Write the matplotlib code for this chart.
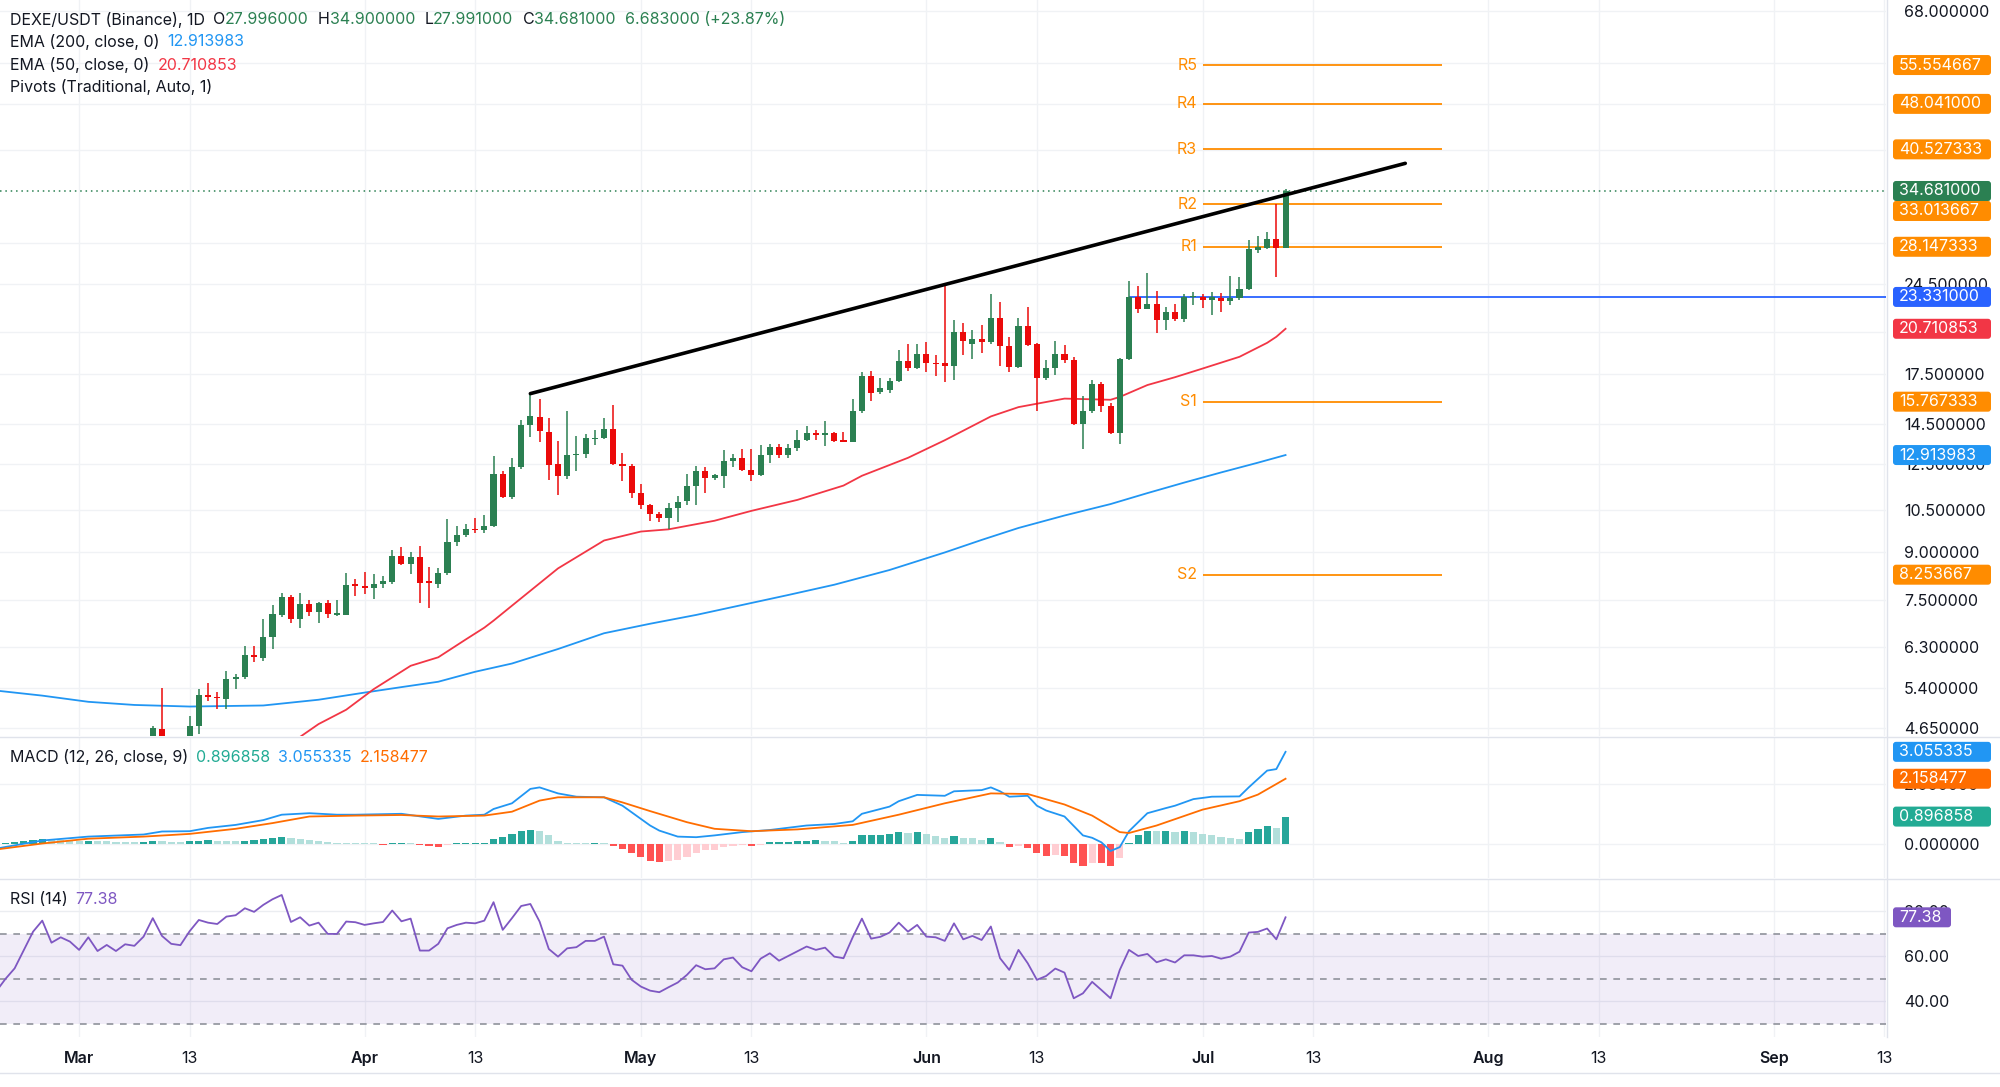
import numpy as np
import pandas as pd
import matplotlib
matplotlib.use("Agg")
import matplotlib.pyplot as plt
import matplotlib.dates as mdates
from matplotlib.patches import FancyBboxPatch
from matplotlib.lines import Line2D
from matplotlib.transforms import IdentityTransform
from matplotlib.ticker import NullLocator, FixedLocator

plt.rcParams['font.family'] = ['Inter', 'DejaVu Sans']

# ---------------- data ----------------
candle_start, candle_end = "2024-03-09", "2024-07-10"
opens = [4.50, 4.63, 4.40, 4.35, 4.45, 4.69, 5.27, 5.23, 5.19, 5.58, 5.63, 6.11, 6.04, 6.54, 7.11, 7.59,
         7.00, 7.40, 7.17, 7.42, 7.11, 7.11, 7.96, 7.92, 7.84, 7.96, 8.03, 8.86, 8.59, 8.83, 8.05, 7.98,
         8.30, 9.33, 9.57, 9.80, 9.76, 9.90, 12.05, 11.05, 12.36, 14.45, 14.90, 14.10, 12.50, 11.95, 12.90,
         12.97, 13.70, 13.75, 14.25, 12.50, 12.40, 11.20, 10.72, 10.35, 10.20, 10.60, 10.88, 11.50, 12.15,
         11.85, 11.95, 12.65, 12.75, 12.22, 12.00, 12.90, 13.30, 12.90, 13.25, 13.65, 14.05, 13.90, 14.05,
         13.65, 13.58, 15.20, 17.35, 16.35, 16.50, 17.05, 18.38, 17.90, 18.85, 18.25, 18.20, 18.00, 20.50,
         19.55, 19.92, 19.70, 21.55, 19.40, 17.95, 20.95, 19.55, 17.20, 17.90, 18.85, 18.45, 14.50, 15.25,
         16.85, 15.50, 14.00, 18.50, 23.35, 22.33, 22.70, 21.40, 22.05, 21.45, 23.30, 23.35, 23.05, 23.20,
         22.95, 23.20, 24.00, 27.85, 28.00, 29.00, 27.996]
highs = [4.69, 5.40, 4.48, 4.49, 4.87, 5.38, 5.50, 5.33, 5.76, 5.70, 6.33, 6.33, 6.98, 7.37, 7.71, 7.66,
         7.71, 7.50, 7.46, 7.50, 7.50, 8.31, 8.11, 8.33, 8.27, 8.22, 9.04, 9.16, 9.00, 9.18, 8.50, 8.45,
         10.18, 9.90, 9.97, 10.20, 10.30, 12.85, 12.15, 12.75, 14.74, 16.25, 15.95, 14.85, 13.60, 15.20,
         13.85, 13.95, 14.20, 14.85, 15.60, 13.00, 12.50, 11.60, 10.75, 10.45, 10.80, 11.08, 12.05, 12.40,
         12.33, 12.05, 13.15, 12.97, 13.20, 13.20, 13.40, 13.45, 13.48, 13.45, 14.20, 14.40, 14.20, 14.65,
         14.10, 14.10, 15.95, 17.60, 17.70, 17.20, 17.25, 19.10, 19.55, 19.60, 19.70, 18.80, 24.50, 21.40,
         21.20, 20.60, 21.00, 23.60, 22.90, 20.05, 21.60, 22.50, 19.65, 18.40, 19.80, 19.50, 18.65, 16.10,
         17.10, 17.00, 15.70, 18.55, 24.80, 24.30, 25.50, 23.90, 22.50, 22.70, 23.60, 23.75, 23.60, 23.75,
         23.70, 25.20, 25.10, 28.90, 29.30, 29.80, 33.00, 34.90]
lows = [4.40, 4.35, 4.25, 4.28, 4.40, 4.54, 5.14, 5.00, 5.00, 5.39, 5.58, 5.96, 5.98, 6.24, 7.05, 6.90,
        6.77, 7.08, 6.90, 7.03, 7.08, 7.10, 7.62, 7.68, 7.55, 7.84, 7.98, 8.56, 8.27, 7.42, 7.28, 7.84,
        8.25, 9.18, 9.49, 9.66, 9.64, 9.88, 10.98, 10.95, 12.25, 13.80, 13.55, 11.75, 11.10, 11.80, 12.15,
        12.75, 13.40, 13.70, 12.45, 11.70, 11.00, 10.55, 10.10, 10.05, 9.80, 10.05, 10.70, 10.70, 11.20,
        11.75, 11.40, 12.35, 12.15, 11.70, 11.95, 12.55, 12.75, 12.75, 13.10, 13.60, 13.65, 13.35, 13.55,
        13.55, 13.55, 15.10, 15.80, 16.20, 16.30, 17.00, 17.70, 17.85, 17.65, 17.35, 17.00, 17.10, 18.75,
        18.50, 18.90, 19.60, 18.00, 17.65, 17.90, 19.45, 15.20, 17.10, 17.40, 18.25, 14.45, 13.20, 15.10,
        15.15, 13.95, 13.45, 18.40, 22.00, 22.30, 20.40, 20.60, 21.35, 21.25, 22.60, 22.40, 21.80, 22.05,
        22.60, 23.10, 23.95, 27.45, 27.95, 25.10, 27.991]
closes = [4.65, 4.40, 4.35, 4.45, 4.69, 5.26, 5.22, 5.21, 5.58, 5.63, 6.11, 6.06, 6.54, 7.12, 7.58, 7.00,
          7.40, 7.17, 7.42, 7.13, 7.14, 7.93, 7.92, 7.84, 7.98, 8.07, 8.86, 8.59, 8.83, 8.00, 8.00, 8.30,
          9.33, 9.57, 9.78, 9.76, 9.90, 12.05, 11.05, 12.35, 14.45, 14.95, 14.15, 12.45, 11.95, 12.90, 12.95,
          13.75, 13.78, 14.25, 12.50, 12.40, 11.20, 10.70, 10.35, 10.20, 10.60, 10.85, 11.50, 12.15, 11.85,
          11.97, 12.65, 12.75, 12.20, 12.00, 12.90, 13.30, 12.90, 13.25, 13.65, 14.00, 13.90, 14.05, 13.60,
          13.58, 15.20, 17.35, 16.30, 16.60, 17.05, 18.35, 17.90, 18.85, 18.25, 18.15, 18.00, 20.50, 19.80,
          19.92, 19.70, 21.55, 19.40, 17.95, 20.95, 19.50, 17.20, 17.90, 18.85, 18.45, 14.50, 15.25, 16.85,
          15.50, 14.00, 18.50, 23.35, 22.33, 22.70, 21.40, 22.05, 21.45, 23.35, 23.40, 23.05, 23.30, 22.95,
          23.20, 24.00, 27.90, 28.10, 29.00, 28.00, 34.681]

ema200_dates = ["2024-02-21", "2024-02-26", "2024-03-02", "2024-03-07", "2024-03-13", "2024-03-21",
                "2024-03-27", "2024-04-01", "2024-04-05", "2024-04-09", "2024-04-13", "2024-04-17",
                "2024-04-22", "2024-04-27", "2024-05-02", "2024-05-07", "2024-05-12", "2024-05-17",
                "2024-05-22", "2024-05-28", "2024-06-03", "2024-06-07", "2024-06-11", "2024-06-16",
                "2024-06-21", "2024-06-25", "2024-06-29", "2024-07-03", "2024-07-07", "2024-07-10"]
ema200_vals = [5.35, 5.25, 5.13, 5.07, 5.04, 5.06, 5.17, 5.31, 5.42, 5.53, 5.74, 5.92, 6.25, 6.63, 6.87,
               7.10, 7.37, 7.65, 7.95, 8.40, 8.97, 9.40, 9.83, 10.30, 10.75, 11.20, 11.65, 12.10, 12.55,
               12.913983]

ema50_dates = ["2024-03-21", "2024-03-25", "2024-03-27", "2024-03-30", "2024-04-02", "2024-04-06",
               "2024-04-09", "2024-04-12", "2024-04-14", "2024-04-15", "2024-04-17", "2024-04-22",
               "2024-04-27", "2024-05-01", "2024-05-04", "2024-05-09", "2024-05-13", "2024-05-18",
               "2024-05-23", "2024-05-25", "2024-05-30", "2024-06-03", "2024-06-08", "2024-06-11",
               "2024-06-16", "2024-06-21", "2024-06-22", "2024-06-25", "2024-06-28", "2024-07-01",
               "2024-07-05", "2024-07-08", "2024-07-09", "2024-07-10"]
ema50_vals = [4.20, 4.50, 4.72, 4.98, 5.38, 5.87, 6.06, 6.48, 6.77, 6.95, 7.35, 8.45, 9.38, 9.70, 9.78,
              10.10, 10.48, 10.92, 11.52, 11.95, 12.78, 13.65, 14.92, 15.45, 15.95, 15.88, 16.05, 16.78,
              17.28, 17.85, 18.65, 19.65, 20.10, 20.710853]

pivot_names = ["R5", "R4", "R3", "R2", "R1", "S1", "S2"]
pivot_vals = [55.554667, 48.041000, 40.527333, 33.013667, 28.147333, 15.767333, 8.253667]
pivot_start, pivot_end = "2024-07-01", "2024-07-27"

level_start, level_val = "2024-06-23", 23.331000
trend_dates = ["2024-04-19", "2024-07-23"]
trend_vals = [16.25, 38.46]

hist_start, hist_end = "2024-02-22", "2024-07-10"
macd_hist = [0.03, 0.05, 0.08, 0.11, 0.135, 0.13, 0.11, 0.09, 0.08, 0.095, 0.08, 0.07, 0.05, 0.04, 0.035,
             0.06, 0.08, 0.07, 0.06, 0.05, 0.08, 0.10, 0.12, 0.10, 0.09, 0.08, 0.10, 0.13, 0.16, 0.19, 0.21,
             0.18, 0.15, 0.12, 0.09, 0.06, 0.03, 0.02, 0.015, 0.01, 0.005, -0.04, 0.01, 0.012, 0.005, -0.05,
             -0.08, -0.10, -0.05, 0.01, 0.015, 0.02, 0.025, 0.155, 0.21, 0.32, 0.43, 0.46, 0.43, 0.27, 0.07,
             0.02, 0.01, 0.005, 0.01, 0.005, -0.08, -0.17, -0.30, -0.45, -0.58, -0.62, -0.58, -0.54, -0.45,
             -0.33, -0.22, -0.20, -0.11, -0.07, -0.05, -0.09, -0.04, 0.04, 0.045, 0.06, 0.08, 0.10, 0.105,
             0.09, 0.07, 0.03, 0.10, 0.27, 0.29, 0.30, 0.31, 0.38, 0.35, 0.38, 0.31, 0.24, 0.17, 0.24, 0.20,
             0.18, 0.13, 0.20, 0.06, -0.13, -0.07, -0.16, -0.33, -0.41, -0.39, -0.40, -0.64, -0.74, -0.64,
             -0.66, -0.75, -0.48, 0.02, 0.29, 0.43, 0.42, 0.43, 0.38, 0.42, 0.38, 0.32, 0.30, 0.23, 0.17,
             0.16, 0.37, 0.50, 0.59, 0.52, 0.896858]

macd_dates = ["2024-02-21", "2024-02-26", "2024-03-02", "2024-03-08", "2024-03-10", "2024-03-13",
              "2024-03-15", "2024-03-18", "2024-03-21", "2024-03-23", "2024-03-26", "2024-03-29",
              "2024-03-31", "2024-04-05", "2024-04-09", "2024-04-12", "2024-04-14", "2024-04-15",
              "2024-04-17", "2024-04-19", "2024-04-20", "2024-04-22", "2024-04-24", "2024-04-27",
              "2024-04-29", "2024-05-02", "2024-05-03", "2024-05-05", "2024-05-07", "2024-05-09",
              "2024-05-12", "2024-05-15", "2024-05-19", "2024-05-22", "2024-05-24", "2024-05-25",
              "2024-05-28", "2024-05-29", "2024-05-31", "2024-06-03", "2024-06-04", "2024-06-07",
              "2024-06-08", "2024-06-09", "2024-06-10", "2024-06-12", "2024-06-13", "2024-06-14",
              "2024-06-16", "2024-06-18", "2024-06-19", "2024-06-20", "2024-06-21", "2024-06-22",
              "2024-06-23", "2024-06-25", "2024-06-27", "2024-06-28", "2024-06-30", "2024-07-02",
              "2024-07-05", "2024-07-06", "2024-07-08", "2024-07-09", "2024-07-10"]
macd_line = [-0.17, 0.10, 0.23, 0.30, 0.40, 0.41, 0.52, 0.62, 0.78, 0.96, 1.01, 0.96, 0.96, 0.99, 0.82,
             0.93, 0.96, 1.15, 1.34, 1.82, 1.87, 1.67, 1.56, 1.54, 1.26, 0.60, 0.43, 0.23, 0.21, 0.27,
             0.38, 0.45, 0.60, 0.65, 0.74, 0.99, 1.23, 1.41, 1.62, 1.59, 1.74, 1.78, 1.87, 1.74, 1.56,
             1.59, 1.26, 1.10, 0.90, 0.27, 0.19, 0.04, -0.25, -0.12, 0.41, 1.01, 1.18, 1.26, 1.48, 1.56,
             1.57, 1.87, 2.43, 2.48, 3.055335]

signal_dates = ["2024-02-21", "2024-02-26", "2024-03-02", "2024-03-08", "2024-03-13", "2024-03-18",
                "2024-03-22", "2024-03-26", "2024-03-31", "2024-04-05", "2024-04-09", "2024-04-14",
                "2024-04-17", "2024-04-20", "2024-04-22", "2024-04-27", "2024-04-29", "2024-05-02",
                "2024-05-06", "2024-05-09", "2024-05-13", "2024-05-18", "2024-05-24", "2024-05-29",
                "2024-06-03", "2024-06-08", "2024-06-12", "2024-06-16", "2024-06-19", "2024-06-22",
                "2024-06-23", "2024-06-26", "2024-07-01", "2024-07-05", "2024-07-07", "2024-07-10"]
signal_line = [-0.20, 0.00, 0.16, 0.23, 0.32, 0.49, 0.68, 0.90, 0.93, 0.95, 0.90, 0.93, 1.06, 1.43, 1.54,
               1.54, 1.37, 1.08, 0.71, 0.49, 0.41, 0.47, 0.62, 0.96, 1.34, 1.67, 1.65, 1.30, 0.93, 0.38,
               0.35, 0.60, 1.13, 1.41, 1.63, 2.158477]

rsi_start, rsi_end = "2024-02-21", "2024-07-10"
rsi = [44.5, 50.0, 54.7, 62.9, 71.0, 75.9, 66.1, 68.5, 66.6, 62.9, 68.5, 62.4, 65.1, 62.4, 65.4, 64.7,
       68.8, 77.0, 69.1, 65.6, 65.0, 71.2, 76.2, 75.0, 74.4, 77.7, 78.3, 81.4, 79.8, 82.9, 85.4, 87.3,
       75.3, 77.4, 73.7, 75.0, 70.0, 70.0, 75.5, 75.2, 74.0, 74.7, 75.3, 80.4, 75.6, 76.8, 62.6, 62.6,
       65.6, 72.5, 74.0, 75.0, 74.7, 75.9, 84.1, 71.8, 77.0, 82.4, 83.3, 75.5, 63.3, 59.9, 63.6, 64.1,
       66.9, 66.9, 68.8, 56.5, 55.9, 49.6, 46.6, 44.8, 44.1, 46.3, 48.4, 51.8, 56.1, 54.3, 54.7, 58.7,
       59.5, 55.2, 53.4, 59.0, 61.4, 58.1, 60.2, 62.3, 64.4, 62.9, 63.9, 59.9, 59.2, 68.5, 76.8, 67.9,
       68.7, 70.6, 75.0, 71.0, 74.0, 68.8, 68.5, 66.9, 74.7, 67.6, 69.1, 67.3, 73.3, 59.2, 54.0, 62.9,
       57.0, 49.6, 51.3, 54.6, 52.8, 41.4, 43.6, 48.7, 45.1, 41.4, 54.0, 62.9, 60.2, 61.1, 57.4, 58.7,
       57.3, 60.5, 60.5, 59.9, 60.2, 59.0, 59.9, 62.1, 70.6, 70.9, 72.4, 67.6, 77.38]

tick_dates = ["2024-03-01", "2024-03-13", "2024-04-01", "2024-04-13", "2024-05-01", "2024-05-13",
              "2024-06-01", "2024-06-13", "2024-07-01", "2024-07-13", "2024-08-01", "2024-08-13",
              "2024-09-01", "2024-09-13"]
tick_labels = ["Mar", "13", "Apr", "13", "May", "13", "Jun", "13", "Jul", "13", "Aug", "13", "Sep", "13"]

price_grid = [68, 56, 48, 40.5, 28.5, 24.5, 20.5, 17.5, 14.5, 12.5, 10.5, 9.0, 7.5, 6.3, 5.4, 4.65]
price_ticks = [68, 24.5, 17.5, 14.5, 12.5, 10.5, 9.0, 7.5, 6.3, 5.4, 4.65]
macd_ticks = [0.0, 2.0]
rsi_ticks = [80, 60, 40]
rsi_bands = [70, 50, 30]

# ---------------- style ----------------
W, H = 2000, 1087
UP, DN = '#2B8052', '#EB0A0A'
ORANGE = '#FF8C00'
GRID = '#f0f2f5'
SEP = '#e0e3eb'
TXT = '#131722'
FS = 11.5

fig = plt.figure(figsize=(W / 100, H / 100), dpi=100)
fig.patch.set_facecolor('white')
XR = 1886


def axes_at(top, bottom):
    return fig.add_axes([0, 1 - bottom / H, XR / W, (bottom - top) / H])


ax = axes_at(0, 736)
axm = axes_at(737, 878)
axr = axes_at(879, 1037)

base = mdates.date2num(pd.Timestamp("2024-03-01"))
xlim = (base - 8.59, base + 196.2)
for a in (ax, axm, axr):
    a.set_xlim(*xlim)
    for s in a.spines.values():
        s.set_visible(False)
    a.yaxis.tick_right()
    a.tick_params(axis='y', length=0, pad=13, labelsize=FS, labelcolor=TXT)
    a.tick_params(axis='x', length=0)
    a.set_facecolor('none')
    for td in mdates.date2num(pd.to_datetime(tick_dates)):
        a.axvline(td, color=GRID, lw=1.0, zorder=0)

# main pane
ax.set_yscale('log')
ax.set_ylim(4.514, 70.86)
ax.yaxis.set_major_locator(FixedLocator(price_ticks))
ax.yaxis.set_minor_locator(NullLocator())
ax.set_yticklabels([f"{v:.6f}" for v in price_ticks])
for g in price_grid:
    ax.axhline(g, color=GRID, lw=1.0, zorder=0)
ax.tick_params(labelbottom=False)
axm.tick_params(labelbottom=False)

cd = mdates.date2num(pd.date_range(candle_start, candle_end, freq='D'))
o, h, l, c = map(np.array, (opens, highs, lows, closes))
col = np.where(c >= o, UP, DN)
ax.vlines(cd, l, h, colors=col, lw=1.1, zorder=3)
ax.bar(cd, np.abs(c - o), bottom=np.minimum(o, c), width=0.66, color=col, lw=0, zorder=4)

ax.plot(mdates.date2num(pd.to_datetime(ema200_dates)), ema200_vals, color='#2196F3', lw=1.3, zorder=2)
ax.plot(mdates.date2num(pd.to_datetime(ema50_dates)), ema50_vals, color='#F23645', lw=1.3, zorder=2)

ps, pe = mdates.date2num(pd.to_datetime([pivot_start, pivot_end]))
ax.hlines(pivot_vals, ps, pe, color=ORANGE, lw=1.3, zorder=2)
for n, v in zip(pivot_names, pivot_vals):
    ax.text(ps - 0.6, v, n, ha='right', va='center', color=ORANGE, fontsize=FS, zorder=5)

ls = mdates.date2num(pd.Timestamp(level_start))
ax.hlines(level_val, ls, xlim[1], color='#2962FF', lw=1.3, zorder=2)
ax.plot(mdates.date2num(pd.to_datetime(trend_dates)), trend_vals, color='black', lw=2.6,
        solid_capstyle='round', zorder=5)
ax.axhline(closes[-1], color=UP, lw=1.1, ls=(0, (1, 2.5)), zorder=2)

# MACD pane
axm.set_ylim(-1.15, 3.55)
axm.yaxis.set_major_locator(FixedLocator(macd_ticks))
axm.set_yticklabels([f"{v:.6f}" for v in macd_ticks])
for g in macd_ticks:
    axm.axhline(g, color=GRID, lw=1.0, zorder=0)
hd = mdates.date2num(pd.date_range(hist_start, hist_end, freq='D'))
hcol = []
prev = None
for v in macd_hist:
    p = v if prev is None else prev
    if v >= 0:
        hcol.append('#26A69A' if v >= p else '#B2DFDB')
    else:
        hcol.append('#FF5252' if v < p else '#FFCDD2')
    prev = v
axm.bar(hd, macd_hist, width=0.78, color=hcol, lw=0, zorder=2)
axm.plot(mdates.date2num(pd.to_datetime(macd_dates)), macd_line, color='#2196F3', lw=1.3, zorder=3)
axm.plot(mdates.date2num(pd.to_datetime(signal_dates)), signal_line, color='#FF6D00', lw=1.3, zorder=3)

# RSI pane
axr.set_ylim(24.2, 94.4)
axr.yaxis.set_major_locator(FixedLocator(rsi_ticks))
axr.set_yticklabels([f"{v:.2f}" for v in rsi_ticks])
for g in rsi_ticks:
    axr.axhline(g, color='#ebedf1', lw=1.0, zorder=0)
axr.axhspan(rsi_bands[2], rsi_bands[0], color='#7E57C2', alpha=0.1, lw=0, zorder=0)
for b in rsi_bands:
    axr.axhline(b, color='#8f929b', lw=1.2, ls=(0, (4, 4)), zorder=1)
rd = mdates.date2num(pd.date_range(rsi_start, rsi_end, freq='D'))
axr.plot(rd, rsi, color='#7E57C2', lw=1.3, zorder=3)

axr.xaxis.set_major_locator(FixedLocator(mdates.date2num(pd.to_datetime(tick_dates))))
axr.set_xticklabels(tick_labels)
axr.tick_params(axis='x', pad=10, labelsize=FS, labelcolor=TXT)
for t in axr.get_xticklabels():
    if t.get_text() != "13":
        t.set_fontweight('semibold')

# separators
def hline_px(y, x0=0, x1=W, color=SEP, lw=1.0):
    fig.add_artist(Line2D([x0, x1], [H - y, H - y], transform=IdentityTransform(), color=color, lw=lw))


hline_px(736.5)
hline_px(878.5)
hline_px(1073)
fig.add_artist(Line2D([XR + 0.5, XR + 0.5], [H - 1037, H], transform=IdentityTransform(), color=SEP, lw=1.0))

# tags
def tag(a, value, text, color, ypx=None, w=98, hgt=20):
    if ypx is None:
        yd = a.transData.transform((xlim[0], value))[1]
    else:
        yd = H - ypx
    fig.add_artist(FancyBboxPatch((XR + 7, yd - hgt / 2), w, hgt,
                                  boxstyle='round,pad=0,rounding_size=3', fc=color, ec='none',
                                  transform=IdentityTransform(), zorder=10))
    fig.text(XR + 13, yd, text, transform=IdentityTransform(), color='white', fontsize=FS,
             va='center', ha='left', zorder=11)


main_tags = [(55.554667, '55.554667', ORANGE), (48.041, '48.041000', ORANGE),
             (40.527333, '40.527333', ORANGE), (34.681, '34.681000', UP),
             (33.013667, '33.013667', ORANGE), (28.147333, '28.147333', ORANGE),
             (23.331, '23.331000', '#2962FF'), (20.710853, '20.710853', '#F23645'),
             (15.767333, '15.767333', ORANGE), (12.913983, '12.913983', '#2196F3'),
             (8.253667, '8.253667', ORANGE)]
last_bottom = -100
for v, t, cc in main_tags:
    ypx = H - ax.transData.transform((xlim[0], v))[1]
    ypx = max(ypx, last_bottom + 20)
    tag(ax, v, t, cc, ypx=ypx)
    last_bottom = ypx

tag(axm, 3.055335, '3.055335', '#2196F3')
tag(axm, 2.158477, '2.158477', '#FF6D00')
tag(axm, 0.896858, '0.896858', '#22AB94')
tag(axr, 77.38, '77.38', '#7E57C2', w=58)

# legends
renderer = fig.canvas.get_renderer()


def chain(x, ytop, parts):
    for s, color, gap in parts:
        t = fig.text(x, H - ytop, s, transform=IdentityTransform(), color=color, fontsize=FS,
                     va='center', ha='left', zorder=12)
        x = t.get_window_extent(renderer).x1 + gap


chain(10, 20, [("DEXE/USDT (Binance), 1D", TXT, 8), ("O", TXT, 0), ("27.996000", UP, 9),
               ("H", TXT, 0), ("34.900000", UP, 9), ("L", TXT, 0), ("27.991000", UP, 9),
               ("C", TXT, 0), ("34.681000", UP, 9), ("6.683000 (+23.87%)", UP, 0)])
chain(10, 42, [("EMA (200, close, 0)", TXT, 8), ("12.913983", '#2196F3', 0)])
chain(10, 65, [("EMA (50, close, 0)", TXT, 8), ("20.710853", '#F23645', 0)])
chain(10, 87, [("Pivots (Traditional, Auto, 1)", TXT, 0)])
chain(10, 757, [("MACD (12, 26, close, 9)", TXT, 8), ("0.896858", '#22AB94', 8),
                ("3.055335", '#2196F3', 8), ("2.158477", '#FF6D00', 0)])
chain(10, 899, [("RSI (14)", TXT, 8), ("77.38", '#7E57C2', 0)])

fig.savefig("out.png", dpi=100, facecolor='white')
